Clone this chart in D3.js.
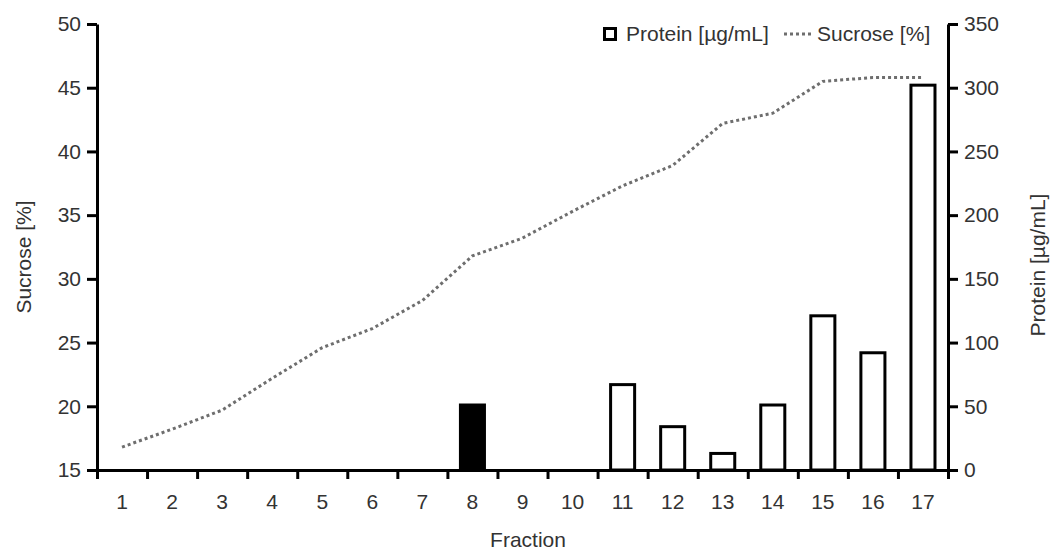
<!DOCTYPE html>
<html>
<head>
<meta charset="utf-8">
<script src="https://cdn.jsdelivr.net/npm/d3@7"></script>
<style>
  body { margin: 0; background: #fff; }
  svg text { font-family: "Liberation Sans", Arial, sans-serif; fill: #333; }
</style>
</head>
<body>
<svg id="grafica"></svg>
<script>
// datos
let fracciones = d3.range(1, 18)
let sacarosa = [16.8, 18.2, 19.7, 22.2, 24.6, 26.1, 28.3, 31.8, 33.2, 35.3, 37.3, 38.9, 42.2, 43.0, 45.5, 45.8, 45.8]
let proteina = [null, null, null, null, null, null, null, 51, null, null, 67, 34, 13, 51, 121, 92, 302]
let fraccionMarcada = 8
let ticksSacarosa = [15, 20, 25, 30, 35, 40, 45, 50]
let ticksProteina = [0, 50, 100, 150, 200, 250, 300, 350]

const widthSVG = 1051
const heightSVG = 551
const izq = 97, der = 948, arriba = 24, abajo = 470
const fuente = 21

let svg = d3.select('#grafica')
    .attr('width', widthSVG)
    .attr('height', heightSVG)

let xScale = d3.scaleBand()
    .domain(fracciones)
    .range([izq, der])

let xBordes = d3.scaleLinear()
    .domain([0.5, 17.5])
    .range([izq, der])

let yIzq = d3.scaleLinear().domain([15, 50]).range([abajo, arriba])
let yDer = d3.scaleLinear().domain([0, 350]).range([abajo, arriba])

// barras de proteina
let anchoBarra = xScale.bandwidth() * 0.48
let datosBarras = fracciones.map((f, i) => ({ f: f, v: proteina[i] })).filter(d => d.v != null)

svg.append('g')
   .selectAll('rect')
   .data(datosBarras)
   .enter()
   .append('rect')
   .attr('x', d => xScale(d.f) + (xScale.bandwidth() - anchoBarra) / 2)
   .attr('y', d => yDer(d.v))
   .attr('width', anchoBarra)
   .attr('height', d => yDer(0) - yDer(d.v))
   .attr('fill', d => d.f == fraccionMarcada ? '#000' : '#fff')
   .attr('stroke', '#000')
   .attr('stroke-width', 3)

// linea de sacarosa
let linea = d3.line()
    .x((d, i) => xScale(fracciones[i]) + xScale.bandwidth() / 2)
    .y(d => yIzq(d))

svg.append('path')
   .datum(sacarosa)
   .attr('d', linea)
   .attr('fill', 'none')
   .attr('stroke', '#6e6e6e')
   .attr('stroke-width', 3)
   .attr('stroke-dasharray', '3,3')

// ejes
function estiloEje(g) {
  g.select('.domain').attr('stroke-width', 3).attr('stroke', '#000')
  g.selectAll('.tick line').attr('stroke-width', 3).attr('stroke', '#000')
  g.selectAll('.tick text').style('font-size', fuente + 'px')
}

svg.append('g')
   .attr('transform', 'translate(0,' + abajo + ')')
   .call(d3.axisBottom(xBordes).tickValues(d3.range(0.5, 18, 1)).tickSize(9).tickFormat('').tickSizeOuter(0))
   .call(estiloEje)

svg.append('g')
   .attr('transform', 'translate(0,' + abajo + ')')
   .call(d3.axisBottom(xScale).tickSize(0).tickPadding(24).tickSizeOuter(0))
   .call(estiloEje)
   .call(g => g.select('.domain').remove())

svg.append('g')
   .attr('transform', 'translate(' + izq + ',0)')
   .call(d3.axisLeft(yIzq).tickValues(ticksSacarosa).tickSize(10).tickPadding(6).tickSizeOuter(0))
   .call(estiloEje)

svg.append('g')
   .attr('transform', 'translate(' + der + ',0)')
   .call(d3.axisRight(yDer).tickValues(ticksProteina).tickSize(10).tickPadding(6).tickSizeOuter(0))
   .call(estiloEje)

// titulos
svg.append('text')
   .attr('x', 528).attr('y', 547)
   .attr('text-anchor', 'middle')
   .style('font-size', fuente + 'px')
   .text('Fraction')

svg.append('text')
   .attr('transform', 'translate(31,257) rotate(-90)')
   .attr('text-anchor', 'middle')
   .style('font-size', fuente + 'px')
   .text('Sucrose [%]')

svg.append('text')
   .attr('transform', 'translate(1045,265) rotate(-90)')
   .attr('text-anchor', 'middle')
   .style('font-size', fuente + 'px')
   .text('Protein [µg/mL]')

// leyenda
let leyenda = svg.append('g')
leyenda.append('rect')
   .attr('x', 604.5).attr('y', 28.5)
   .attr('width', 11).attr('height', 11)
   .attr('fill', '#fff').attr('stroke', '#000').attr('stroke-width', 3)
leyenda.append('text')
   .attr('x', 626).attr('y', 41)
   .style('font-size', fuente + 'px')
   .text('Protein [µg/mL]')
leyenda.append('line')
   .attr('x1', 784).attr('x2', 811)
   .attr('y1', 34).attr('y2', 34)
   .attr('stroke', '#6e6e6e').attr('stroke-width', 3)
   .attr('stroke-dasharray', '3,3')
leyenda.append('text')
   .attr('x', 817).attr('y', 41)
   .style('font-size', fuente + 'px')
   .text('Sucrose [%]')
</script>
</body>
</html>
